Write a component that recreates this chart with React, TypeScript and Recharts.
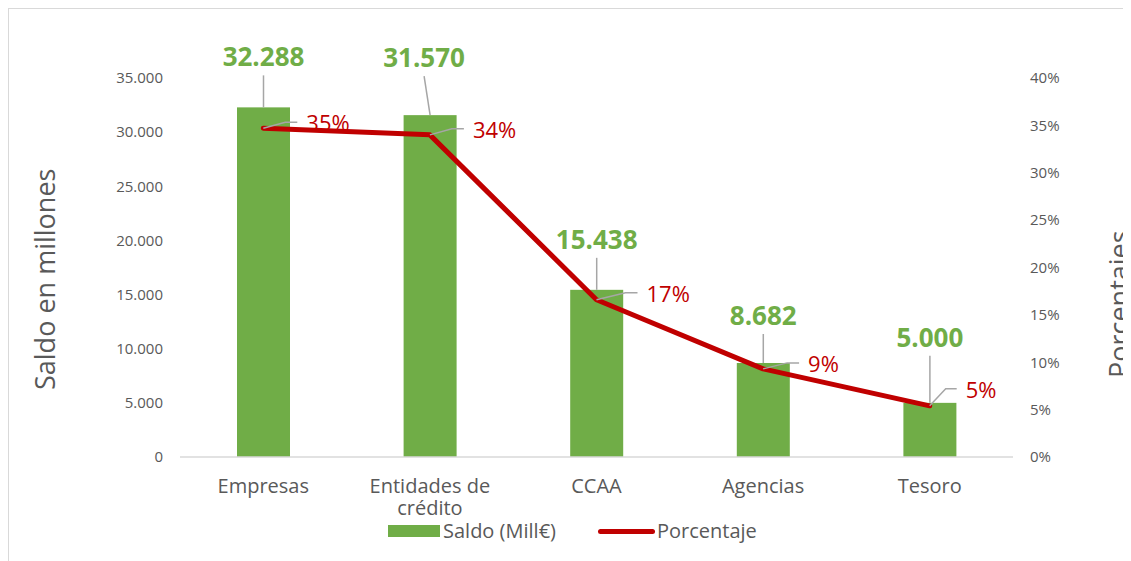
import React from 'react';
import { ComposedChart, Bar, Line, XAxis, YAxis } from 'recharts';

const categories = ['Empresas', 'Entidades de crédito', 'CCAA', 'Agencias', 'Tesoro'];
const saldo = [32288, 31570, 15438, 8682, 5000];
const porcentaje = [34.7, 34.0, 16.6, 9.3, 5.4];
const leftTicks = [0, 5000, 10000, 15000, 20000, 25000, 30000, 35000];
const rightTicks = [0, 5, 10, 15, 20, 25, 30, 35, 40];

const data = categories.map((c, i) => ({ name: c, saldo: saldo[i], pct: porcentaje[i] }));

// label layout tweaks (relative to library-computed positions)
const BAR_LABEL_RISE = [51, 58, 51, 48, 66];
const BAR_LEADER_DX = [0, -6, 0, 0, 0];
const PCT_DX = [43, 43, 50, 45, 36];
const PCT_DY = [-6, -6, -7, -6, -17];

const GREEN = '#70AD47';
const RED = '#C00000';
const GRAY = '#595959';
const LEADER = '#A6A6A6';
const FONT = '"Open Sans", "DejaVu Sans", sans-serif';

const fmtThousands = (v: number) => String(v).replace(/\B(?=(\d{3})+(?!\d))/g, '.');

const wrapWords = (s: string, maxChars: number) => {
  const words = s.split(' ');
  const lines: string[] = [];
  let cur = '';
  words.forEach((w) => {
    const next = cur ? `${cur} ${w}` : w;
    if (next.length > maxChars && cur) {
      lines.push(cur);
      cur = w;
    } else {
      cur = next;
    }
  });
  if (cur) lines.push(cur);
  return lines;
};

const BarWithLabel = (props: any) => {
  const { x, y, width, height, index, payload } = props;
  const cx = x + width / 2;
  const rise = BAR_LABEL_RISE[index] ?? 52;
  const ly = y - rise;
  return (
    <g>
      <rect x={x} y={y} width={width} height={height} fill={GREEN} />
      <line x1={cx + (BAR_LEADER_DX[index] ?? 0)} y1={ly + 19} x2={cx} y2={y} stroke={LEADER} strokeWidth={1.5} />
      <text x={cx + (BAR_LEADER_DX[index] ?? 0)} y={ly} textAnchor="middle" dominantBaseline="central"
        fontFamily={FONT} fontWeight={700} fontSize={26} fill={GREEN}>
        {fmtThousands(payload.saldo)}
      </text>
    </g>
  );
};

const PctDot = (props: any) => {
  const { cx, cy, index, payload } = props;
  const dx = PCT_DX[index] ?? 43;
  const dy = PCT_DY[index] ?? -6;
  const endX = cx + dx - 9;
  const elbowX = endX - (index === 4 ? 11 : 12);
  return (
    <g>
      <polyline points={`${cx},${cy} ${elbowX},${cy + dy} ${endX},${cy + dy}`} fill="none" stroke={LEADER} strokeWidth={1.5} />
      <text x={cx + dx} y={cy + dy} dominantBaseline="central" fontFamily={FONT} fontSize={22} fill={RED}>
        {`${Math.round(payload.pct)}%`}
      </text>
    </g>
  );
};

const CategoryTick = (props: any) => {
  const { x, y, payload } = props;
  const lines = wrapWords(String(payload.value), 13);
  return (
    <text x={x} y={y + 36} textAnchor="middle" fontFamily={FONT} fontSize={20} fill={GRAY}>
      {lines.map((l, i) => (
        <tspan key={i} x={x} dy={i === 0 ? 0 : 22}>{l}</tspan>
      ))}
    </text>
  );
};

export default function App() {
  return (
    <div style={{ position: 'relative', width: 1123, height: 553, boxSizing: 'border-box', borderTop: '1px solid #d9d9d9', borderLeft: '1px solid #d9d9d9', background: '#fff' }}>
      <style>{`html,body{overflow:hidden}`}</style>
      <ComposedChart width={1122} height={552} data={data} margin={{ top: 69, right: 18, left: 71, bottom: 44 }}>
        <XAxis dataKey="name" height={60} axisLine={{ stroke: '#d9d9d9', strokeWidth: 1.5 }} tickLine={false}
          tickSize={0} tickMargin={0} tick={<CategoryTick />} interval={0} />
        <YAxis yAxisId="left" width={100} domain={[0, 35000]} ticks={leftTicks} axisLine={false} tickLine={false}
          tickSize={0} tickMargin={17} tickFormatter={fmtThousands}
          tick={{ fill: GRAY, fontSize: 15, fontFamily: FONT }} />
        <YAxis yAxisId="right" orientation="right" width={100} domain={[0, 40]} ticks={rightTicks} axisLine={false}
          tickLine={false} tickSize={0} tickMargin={17} tickFormatter={(v: number) => `${v}%`}
          tick={{ fill: GRAY, fontSize: 15, fontFamily: FONT, textAnchor: 'start' }} />
        <Bar yAxisId="left" dataKey="saldo" barSize={53} fill={GREEN} shape={<BarWithLabel />} isAnimationActive={false} />
        <Line yAxisId="right" dataKey="pct" type="linear" stroke={RED} strokeWidth={5} strokeLinejoin="round"
          strokeLinecap="round" dot={(p: any) => <PctDot key={`d${p.index}`} {...p} />} activeDot={false} isAnimationActive={false} />
      </ComposedChart>
      <svg width={1122} height={552} style={{ position: 'absolute', left: 0, top: 0, pointerEvents: 'none' }}>
        <text transform="translate(46,381) rotate(-90)" fontFamily={FONT} fontSize={27} fill={GRAY}>Saldo en millones</text>
        <text transform="translate(1120,369) rotate(-90)" fontFamily={FONT} fontSize={27} fill={GRAY}>Porcentajes</text>
      </svg>
      <div style={{ position: 'absolute', left: 0, top: 0, width: 1122, height: 552, pointerEvents: 'none', fontFamily: FONT, fontSize: 20, color: GRAY }}>
        <div style={{ position: 'absolute', left: 379, top: 516, width: 52, height: 12, background: GREEN }} />
        <div style={{ position: 'absolute', left: 434, top: 511, lineHeight: '22px', whiteSpace: 'nowrap' }}>Saldo (Mill€)</div>
        <div style={{ position: 'absolute', left: 589, top: 519.5, width: 57, height: 5, borderRadius: 3, background: RED }} />
        <div style={{ position: 'absolute', left: 648, top: 511, lineHeight: '22px', whiteSpace: 'nowrap' }}>Porcentaje</div>
      </div>
    </div>
  );
}
